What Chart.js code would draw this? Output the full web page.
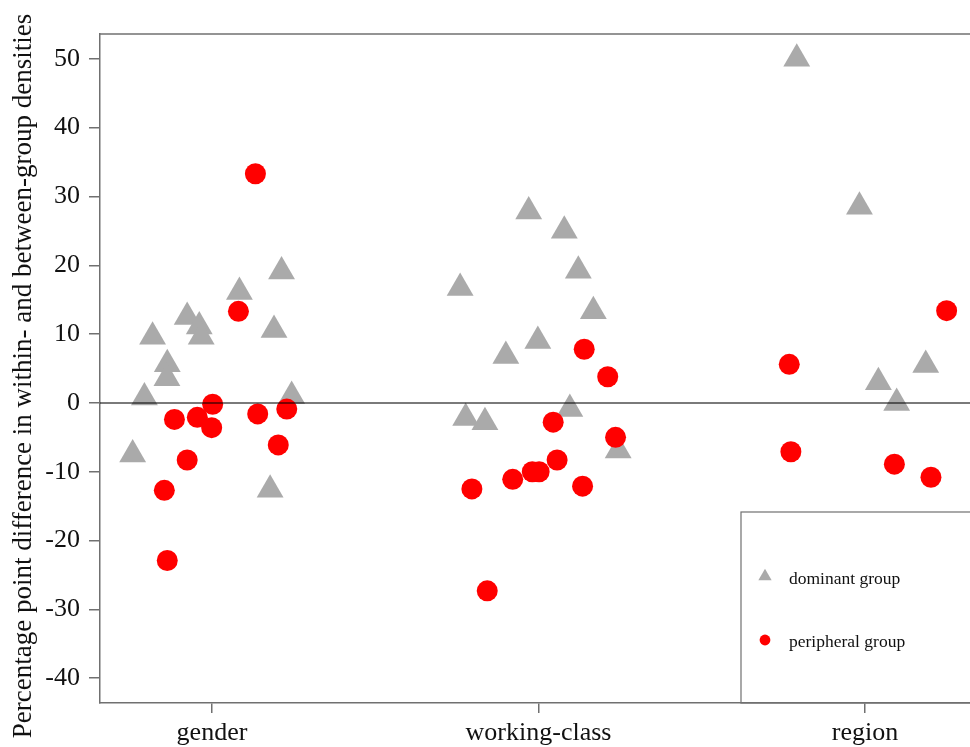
<!DOCTYPE html>
<html>
<head>
<meta charset="utf-8">
<script src="https://cdn.jsdelivr.net/npm/chart.js@4/dist/chart.umd.min.js"></script>
<style>
  html, body { margin: 0; padding: 0; background: #ffffff; overflow: hidden; }
  canvas { display: block; }
</style>
</head>
<body>
<canvas id="chart" width="970" height="747"></canvas>
<script>
// Categories along the x axis
const categories = ['gender', 'working-class', 'region'];

// Percentage point difference, dominant group (triangles)
const genderDominant        = [19.1, 16.1, 12.5, 11.1, 9.6, 9.6, 5.6, 3.6, 0.8, 1.0, 10.6, -7.5, -12.6];
const genderDominantJitter  = [0.213, 0.084, -0.076, -0.039, -0.033, -0.182, -0.137, -0.138, -0.207, 0.244, 0.190, -0.243, 0.178];
const workingDominant       = [27.8, 25.0, 19.2, 16.7, 13.3, 9.0, 6.8, -0.9, -2.2, -2.8, -6.9];
const workingDominantJitter = [-0.030, 0.079, 0.122, -0.240, 0.168, -0.002, -0.100, 0.096, -0.223, -0.164, 0.244];
const regionDominant        = [50.0, 28.5, 5.5, 3.0, 0.0];
const regionDominantJitter  = [-0.209, -0.017, 0.186, 0.041, 0.097];

// Percentage point difference, peripheral group (circles)
const genderPeripheral        = [33.3, 13.3, -0.2, -2.4, -2.1, -3.6, -1.6, -0.9, -6.1, -8.3, -12.7, -22.9];
const genderPeripheralJitter  = [0.133, 0.081, 0.002, -0.115, -0.045, -0.001, 0.140, 0.229, 0.203, -0.076, -0.146, -0.137];
const workingPeripheral       = [7.8, 3.8, -2.8, -5.0, -8.3, -10.0, -10.0, -11.1, -12.5, -12.1, -27.3];
const workingPeripheralJitter = [0.140, 0.212, 0.045, 0.236, 0.057, -0.019, 0.002, -0.079, -0.204, 0.135, -0.157];
const regionPeripheral        = [13.4, 5.6, -7.1, -8.9, -10.8];
const regionPeripheralJitter  = [0.250, -0.232, -0.227, 0.090, 0.202];

// Axis ticks
const yTickValues = [-40, -30, -20, -10, 0, 10, 20, 30, 40, 50];
const xTickValues = [1, 2, 3];

const seriesNames = ['dominant group', 'peripheral group'];
const yTitle = 'Percentage point difference in within- and between-group densities';

function toPoints(catIndex, values, jitter) {
  return values.map((v, i) => ({ x: catIndex + 1 + jitter[i], y: v }));
}

const dominantPoints = [
  ...toPoints(0, genderDominant, genderDominantJitter),
  ...toPoints(1, workingDominant, workingDominantJitter),
  ...toPoints(2, regionDominant, regionDominantJitter)
];
const peripheralPoints = [
  ...toPoints(0, genderPeripheral, genderPeripheralJitter),
  ...toPoints(1, workingPeripheral, workingPeripheralJitter),
  ...toPoints(2, regionPeripheral, regionPeripheralJitter)
];

const GREY = '#aaaaaa';
const RED = '#ff0000';
const AXIS = '#707070';
const INK = '#111111';
const SERIF = "'Liberation Serif', 'DejaVu Serif', serif";

Chart.defaults.font.family = SERIF;
Chart.defaults.color = INK;

function drawMarker(ctx, style, r, x, y, color) {
  ctx.save();
  ctx.fillStyle = color;
  ctx.beginPath();
  if (style === 'triangle') {
    let a = 0;
    ctx.moveTo(x + Math.sin(a) * r, y - Math.cos(a) * r);
    a += 2 * Math.PI / 3;
    ctx.lineTo(x + Math.sin(a) * r, y - Math.cos(a) * r);
    a += 2 * Math.PI / 3;
    ctx.lineTo(x + Math.sin(a) * r, y - Math.cos(a) * r);
    ctx.closePath();
  } else {
    ctx.arc(x, y, r, 0, 2 * Math.PI);
  }
  ctx.fill();
  ctx.restore();
}

// Frame, zero reference line, y axis title and the boxed legend
const decorations = {
  id: 'decorations',
  afterDatasetsDraw(chart) {
    const { ctx, chartArea, scales } = chart;
    const y0 = scales.y.getPixelForValue(0);
    ctx.save();
    ctx.strokeStyle = 'rgba(0,0,0,0.52)';
    ctx.lineWidth = 2;
    ctx.beginPath();
    ctx.moveTo(chartArea.left, y0);
    ctx.lineTo(chartArea.right, y0);
    ctx.stroke();
    ctx.restore();
  },
  afterDraw(chart) {
    const { ctx, chartArea } = chart;
    ctx.save();
    // top edge of the plot box
    ctx.strokeStyle = AXIS;
    ctx.lineWidth = 1.5;
    ctx.beginPath();
    ctx.moveTo(chartArea.left, chartArea.top);
    ctx.lineTo(chartArea.right + 10, chartArea.top);
    ctx.stroke();

    // y axis title, rotated
    ctx.save();
    ctx.translate(24, 376);
    ctx.rotate(-Math.PI / 2);
    ctx.fillStyle = INK;
    ctx.font = '27px ' + SERIF;
    ctx.textAlign = 'center';
    ctx.textBaseline = 'middle';
    ctx.fillText(yTitle, 0, 0);
    ctx.restore();

    // legend box in the lower right corner
    const lx = chartArea.right - 229;
    const ly = chartArea.bottom - 191;
    ctx.lineWidth = 1.2;
    ctx.strokeRect(lx, ly, 260, 191);

    drawMarker(ctx, 'triangle', 7.7, lx + 24, ly + 64.5, GREY);
    drawMarker(ctx, 'circle', 5.4, lx + 24, ly + 128, RED);

    ctx.fillStyle = INK;
    ctx.font = '17.5px ' + SERIF;
    ctx.textAlign = 'left';
    ctx.textBaseline = 'alphabetic';
    ctx.fillText(seriesNames[0], lx + 48, ly + 72);
    ctx.fillText(seriesNames[1], lx + 48, ly + 135);
    ctx.restore();
  }
};

new Chart(document.getElementById('chart'), {
  type: 'scatter',
  data: {
    datasets: [
      {
        label: seriesNames[0],
        data: dominantPoints,
        pointStyle: 'triangle',
        pointRadius: 15.5,
        pointBackgroundColor: GREY,
        pointBorderWidth: 0,
        order: 2
      },
      {
        label: seriesNames[1],
        data: peripheralPoints,
        pointStyle: 'circle',
        pointRadius: 10.5,
        pointBackgroundColor: RED,
        pointBorderWidth: 0,
        order: 1
      }
    ]
  },
  options: {
    responsive: false,
    devicePixelRatio: 1,
    animation: false,
    events: [],
    clip: false,
    layout: { autoPadding: false, padding: { left: 0, right: 0, top: 34, bottom: 0 } },
    plugins: {
      legend: { display: false },
      tooltip: { enabled: false }
    },
    scales: {
      x: {
        type: 'linear',
        min: 0.657,
        max: 3.3216,
        afterBuildTicks(axis) {
          axis.ticks = xTickValues.map(v => ({ value: v }));
        },
        afterFit(axis) {
          axis.height = 44;
          axis.paddingLeft = 0;
          axis.paddingRight = 0;
        },
        ticks: {
          padding: 4.6,
          maxRotation: 0,
          autoSkip: false,
          font: { size: 26, family: SERIF, lineHeight: 1.2 },
          color: INK,
          callback: (v) => categories[v - 1]
        },
        grid: {
          drawOnChartArea: false,
          drawTicks: true,
          tickLength: 10,
          color: AXIS,
          lineWidth: 1.5
        },
        border: { display: true, color: AXIS, width: 1.5 }
      },
      y: {
        type: 'linear',
        min: -43.6,
        max: 53.6,
        afterBuildTicks(axis) {
          axis.ticks = yTickValues.map(v => ({ value: v }));
        },
        afterFit(axis) {
          axis.width = 100;
          axis.paddingTop = 0;
          axis.paddingBottom = 0;
        },
        ticks: {
          padding: 9,
          autoSkip: false,
          font: { size: 26, family: SERIF },
          color: INK
        },
        grid: {
          drawOnChartArea: false,
          drawTicks: true,
          tickLength: 11,
          color: AXIS,
          lineWidth: 1.5
        },
        border: { display: true, color: AXIS, width: 1.5 }
      }
    }
  },
  plugins: [decorations]
});
</script>
</body>
</html>
